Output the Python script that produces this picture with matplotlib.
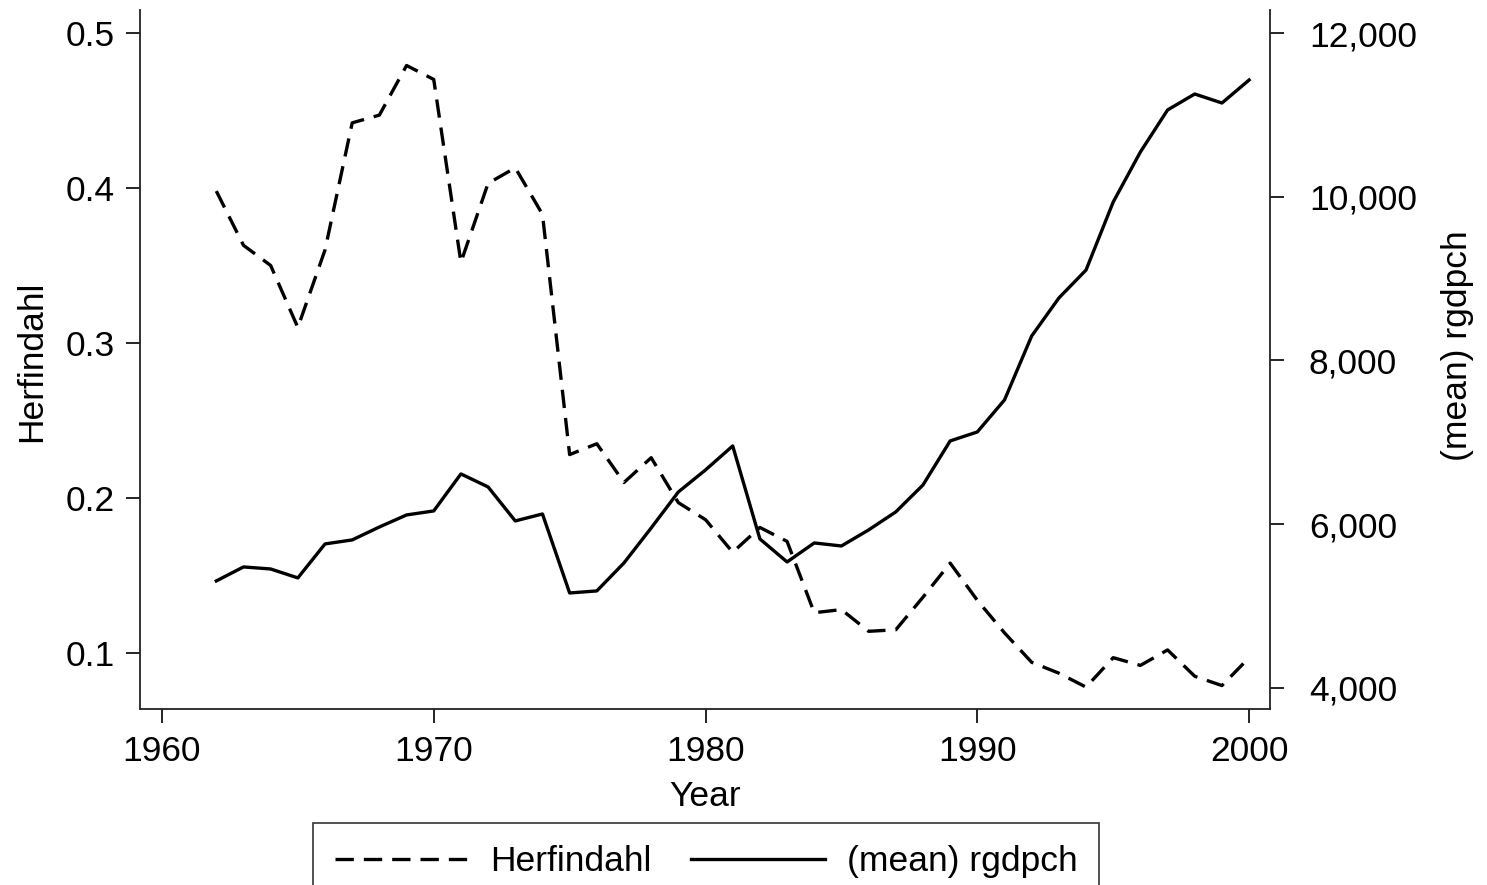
import matplotlib.pyplot as plt
from matplotlib.ticker import FuncFormatter

plt.rcParams['font.family'] = ['Liberation Sans', 'DejaVu Sans']

years = list(range(1962, 2001))

herfindahl = [0.398, 0.363, 0.350, 0.310, 0.360, 0.442, 0.447, 0.479, 0.470, 0.352,
              0.403, 0.413, 0.383, 0.228, 0.235, 0.210, 0.226, 0.197, 0.186, 0.165,
              0.181, 0.172, 0.126, 0.128, 0.114, 0.115, 0.136, 0.158, 0.134, 0.113,
              0.094, 0.087, 0.078, 0.097, 0.092, 0.102, 0.085, 0.079, 0.097]

rgdpch = [5307, 5478, 5453, 5344, 5759, 5808, 5966, 6113, 6162, 6614,
          6455, 6040, 6125, 5160, 5185, 5527, 5954, 6394, 6663, 6956,
          5820, 5539, 5771, 5734, 5930, 6150, 6479, 7017, 7127, 7518,
          8299, 8763, 9105, 9936, 10547, 11060, 11255, 11145, 11426]

x_ticks = [1960, 1970, 1980, 1990, 2000]
left_ticks = [0.1, 0.2, 0.3, 0.4, 0.5]
right_ticks = [4000, 6000, 8000, 10000, 12000]

fs = 25.5
lw = 2.4

fig = plt.figure(figsize=(14.87, 8.85), dpi=100)
ax = fig.add_axes([0.0941, 0.1989, 0.760, 0.7898])
ax2 = ax.twinx()

l1, = ax.plot(years, herfindahl, color='black', lw=lw, dashes=(5.5, 3),
              label='Herfindahl')
l2, = ax2.plot(years, rgdpch, color='black', lw=lw, label='(mean) rgdpch')

ax.set_xlim(1959.19, 2000.77)
ax.set_ylim(0.0639, 0.5148)
ax2.set_ylim(3743, 12281)

ax.set_xticks(x_ticks)
ax.set_yticks(left_ticks)
ax.set_yticklabels(['0.1', '0.2', '0.3', '0.4', '0.5'])
ax2.set_yticks(right_ticks)
ax2.yaxis.set_major_formatter(FuncFormatter(lambda v, p: f'{int(v):,}'))

for a in (ax, ax2):
    a.spines['top'].set_visible(False)
    for s in a.spines.values():
        s.set_linewidth(1.3)
        s.set_color('#222222')
ax2.spines['left'].set_visible(False)
ax2.spines['bottom'].set_visible(False)
ax.spines['right'].set_visible(False)

ax.tick_params(axis='y', direction='out', length=10, width=1.2, labelsize=fs, pad=8)
ax.tick_params(axis='x', direction='out', length=10, width=1.2, labelsize=fs, pad=9)
ax2.tick_params(axis='y', direction='out', length=10, width=1.2, labelsize=fs, pad=18)

ax.set_xlabel('Year', fontsize=fs)
ax.xaxis.set_label_coords(0.5, -0.101)
ax.set_ylabel('Herfindahl', fontsize=fs)
ax.yaxis.set_label_coords(-0.081, 0.497)
ax2.set_ylabel('(mean) rgdpch', fontsize=fs)
ax2.yaxis.set_label_coords(1.151, 0.52)

leg = fig.legend(handles=[l1, l2], loc='upper center',
                 bbox_to_anchor=(706 / 1487, 1 - 823 / 885),
                 ncol=2, fontsize=fs, frameon=True, fancybox=False,
                 handlelength=3.8, handletextpad=0.6, columnspacing=1.1,
                 borderpad=0.62, borderaxespad=0)
leg.get_frame().set_edgecolor('black')
leg.get_frame().set_linewidth(1.2)

fig.savefig('out.png', dpi=100)
